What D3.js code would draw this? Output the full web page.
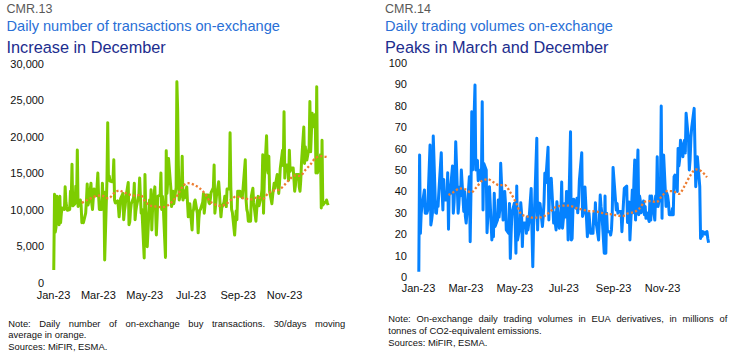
<!DOCTYPE html>
<html><head><meta charset="utf-8">
<script src="https://cdn.jsdelivr.net/npm/d3@7"></script>
<style>body{margin:0;background:#fff}svg{display:block;font-family:"Liberation Sans",Arial,sans-serif}</style>
</head><body><svg id="c" width="740" height="356"></svg>
<script>
// ---- DATA (one row = one trading week, Mon..Fri, 2023) ----
const transactions = [
1700,12100,6900,7600,11800, 7900,11800,8200,9500,10200, 10000,13100,11000,10400,9900, 10000,12500,11500,16200,10500,
10800,13200,11000,18150,10400, 11300,10600,8200,8400,8200, 9500,11200,13500,10600,11000, 13600,10800,10000,11500,12800,
11900,13200,15000,11800,10000, 10000,13600,11000,12400,3080, 14000,21900,14000,14600,13900, 13800,14200,16800,11300,10900,
11200,10400,9000,10100,11500, 12200,8600,9800,10500,11700, 13700,7900,8300,9900,10800, 11600,13600,8600,9800,10500,
12000,14300,11900,9500,10000, 3350,14800,10000,8000,4900, 11300,9500,12700,7200,10000, 13100,9800,6500,8900,11800,
12000,15000,10000,11800,10600, 3440,18050,12200,14000,17000, 13000,10400,11200,12500,10800, 13000,27500,23700,16000,11300,
12500,17300,11300,12600,11600, 13100,10900,9000,10200,10800, 7200,9700,10000,11000,11300, 9400,6800,8800,9900,10000,
11000,12200,9500,10600,12000, 12000,11000,10800,11400,12300, 13000,16100,9500,10600,11800, 13800,12300,10500,9000,10200,
11000,11800,10900,10400,12800, 12800,20500,13000,10000,9600, 6500,8200,9800,8600,12500, 12500,11800,12200,11600,12800,
16800,11400,10000,9600,8400, 8400,11800,12400,12900,11000, 8400,9900,11200,11800,10500, 11800,12800,17500,9500,13900,
20100,15800,15000,17300,12500, 10800,11900,12800,13600,12900, 14800,13800,12200,13500,15600, 18100,16000,23400,14300,16100,
16100,14000,18100,15200,15700, 15700,14200,12500,13300,14800, 14800,13100,12500,14000,16500, 21300,16300,18600,17000,16800,
18500,24800,17900,20500,23200, 21300,23000,15000,26800,15000, 16300,17500,10200,19500,10600, 11000,11000,11300,10900,10600
];
// 30-day moving average, read weekly (Wednesday of each week)
const transactionsMA = [
null,null,null,null,null,10900,11300,11650,11900,11850,11500,12200,12600,12300,12050,11900,12000,11000,10500,10400,
10300,10500,11100,12000,13200,13600,13400,13000,12300,11200,10700,10500,10700,11300,11800,11600,11450,11400,11700,11450,
12200,12600,12700,13300,14100,14650,14600,15400,16200,17100,17300,17200
];
const volumes = [
2.5,57,20.4,29.8,33, 40.7,29.8,30.5,29.8,31, 61.7,24.3,26.6,30,65.9, 30,29.8,35,33,40,
58.1,40.7,31.3,45.6,36, 36,48.7,22.3,43,39, 51.9,29.8,35,45,63.2, 29.8,34.4,42,38,50,
30.6,40,28.3,25.2,30, 46.9,16.5,40,77.2,50, 89.7,50,51.5,54.5,45, 50,45,81.9,31.3,53,
50,20.7,28.3,35,42.2, 17.3,25,18.8,39.1,23.6, 26.6,36,28,32,53.1, 26.6,28.3,40,34.4,22,
20.4,34.4,8.7,20,30, 34.4,26.6,11.1,42.5,17.3, 23.6,34.7,30,14.2,25.2, 25.2,20.4,28,22,25.2,
41.4,21.2,4.8,23.6,30, 64.8,22,34.7,30,34.4, 23.6,28.3,35,48.5,44, 60.6,26.6,44.1,38,46.1,
25.2,30,25.2,22,35.2, 22.8,25.2,30,44.4,22.8, 34.4,28,40,35,17.3, 67.9,17.3,18,31.3,36.3,
32.1,36.8,30,35,45, 58.1,28.3,29.8,35,42, 18.8,28.3,29.8,25,20.4, 20.4,29.8,25,34.7,25.2,
17.3,28,38.3,33,30, 11.1,37.8,11.1,29.8,21.2, 21.2,19.6,22,30,51.2, 36,31.3,34.4,29.8,30.6,
30.6,21.2,28,35,41.4, 42.5,25.5,29.8,35,17.3, 40.7,30,45,54.7,26.6, 59.3,29.1,37.8,35.5,30,
35.5,29.1,33,27.4,30, 25.9,37.8,26.6,37.8,35, 26.6,37.8,33,56.2,33, 39.1,79.9,27.4,56.2,57,
33,39.1,37.8,35,29.1, 29.1,32,29.1,46.9,47.6, 40,60.1,51.9,55,63.9, 56.2,62,63.9,58,76.5,
63.9,50,55,65,70, 78.8,60,42.2,50,56.2, 42.2,18,20.4,19,21.2, 20,21,21.2,18,16
];
const volumesMA = [
null,null,null,null,null,38.3,39.8,41.4,41,39.5,42,45,45.7,44.3,42.9,43,39.5,34.8,29.2,28.3,
27.7,27.7,28.4,30.3,32.6,33.3,33.4,33,32,31.4,30.8,30.7,30.2,29.5,29.3,28.7,28.5,29.8,30.3,32.1,
35.2,35.5,35,37.9,40.2,40,38.8,42.5,47.3,50.3,49.4,46.6
];
const leftYTicks = [0,5000,10000,15000,20000,25000,30000];
const rightYTicks = [0,10,20,30,40,50,60,70,80,90,100];
const monthTicks = ["2023-01-01","2023-03-01","2023-05-01","2023-07-01","2023-09-01","2023-11-01"];

const parse = d3.timeParse("%Y-%m-%d");
const tickDates = monthTicks.map(parse);
const dayDate = i => new Date(2023, 0, 2 + 7 * Math.floor(i / 5) + (i % 5));
const weekDate = w => new Date(2023, 0, 4 + 7 * w);

const svg = d3.select("#c");
svg.append("rect").attr("width",740).attr("height",356).attr("fill","#fff");

function chart(o){
  const x = d3.scaleTime().domain([new Date(2023,0,1), new Date(2024,0,1)]).range(o.xr);
  const y = d3.scaleLinear().domain(o.yd).range(o.yr);
  const g = svg.append("g");
  g.append("text").attr("x",o.tx).attr("y",13.3).attr("font-size",12.5).attr("fill","#595959").text(o.code);
  g.append("text").attr("x",o.tx).attr("y",31).attr("font-size",14.6).attr("fill","#2a6fd6").text(o.title);
  g.append("text").attr("x",o.tx).attr("y",52.7).attr("font-size",16.3).attr("fill","#1c2d8e").text(o.sub);
  const ya = g.append("g").attr("transform",`translate(${o.xr[0]},0)`)
    .call(d3.axisLeft(y).tickValues(o.yt).tickFormat(o.fmt).tickSize(0).tickPadding(o.ypad));
  const xa = g.append("g").attr("transform",`translate(0,${o.yr[0]})`)
    .call(d3.axisBottom(x).tickValues(tickDates).tickFormat(d3.timeFormat("%b-%y")).tickSize(0).tickPadding(o.xpad));
  [ya,xa].forEach(a=>{a.select(".domain").remove();
    a.selectAll("text").attr("font-size",11).attr("fill","#111").attr("font-family","Liberation Sans, Arial, sans-serif");});
  const pts = o.vals.map((v,i)=>({d:dayDate(i),v}));
  g.append("path").datum(pts).attr("fill","none").attr("stroke",o.color).attr("stroke-width",3)
    .attr("stroke-linejoin","round")
    .attr("d", d3.line().x(p=>x(p.d)).y(p=>y(p.v)));
  const ma = o.ma.map((v,w)=>({d:weekDate(w),v}));
  g.append("path").datum(ma).attr("fill","none").attr("stroke","#ed7d31").attr("stroke-width",2.3)
    .attr("stroke-dasharray","2.2,2.2")
    .attr("d", d3.line().defined(p=>p.v!=null).curve(d3.curveMonotoneX).x(p=>x(p.d)).y(p=>y(p.v)));
}

chart({xr:[53,330.4], yd:[0,30000], yr:[282.5,63.5], yt:leftYTicks, fmt:d3.format(","), ypad:9, xpad:8.7,
  color:"#7dcc00", vals:transactions, ma:transactionsMA, tx:6.5,
  code:"CMR.13", title:"Daily number of transactions on-exchange", sub:"Increase in December"});
chart({xr:[418,711], yd:[0,100], yr:[277,63], yt:rightYTicks, fmt:d3.format("d"), ypad:11, xpad:6.9,
  color:"#0582ff", vals:volumes, ma:volumesMA, tx:385,
  code:"CMR.14", title:"Daily trading volumes on-exchange", sub:"Peaks in March and December"});

function note(x, w, y0, lines){
  lines.forEach((ln,i)=>{
    const y = y0 + i*11.7;
    if(ln.justify){
      const words = ln.t.split(" ");
      const ts = words.map(wd => svg.append("text").attr("y",y).attr("font-size",9.4).attr("fill","#111").text(wd));
      const widths = ts.map(t=>t.node().getComputedTextLength());
      const gap = (w - d3.sum(widths))/(words.length-1);
      let cx = x;
      ts.forEach((t,k)=>{t.attr("x",cx); cx += widths[k]+gap;});
    } else {
      svg.append("text").attr("x",x).attr("y",y).attr("font-size",9.4).attr("fill","#111").text(ln.t);
    }
  });
}
note(8.3, 337, 326.7, [
  {t:"Note: Daily number of on-exchange buy transactions. 30/days moving", justify:true},
  {t:"average in orange."},{t:"Sources: MiFIR, ESMA."}]);
note(388.3, 339, 322.3, [
  {t:"Note: On-exchange daily trading volumes in EUA derivatives, in millions of", justify:true},
  {t:"tonnes of CO2-equivalent emissions."},{t:"Sources: MiFIR, ESMA."}]);
</script></body></html>
